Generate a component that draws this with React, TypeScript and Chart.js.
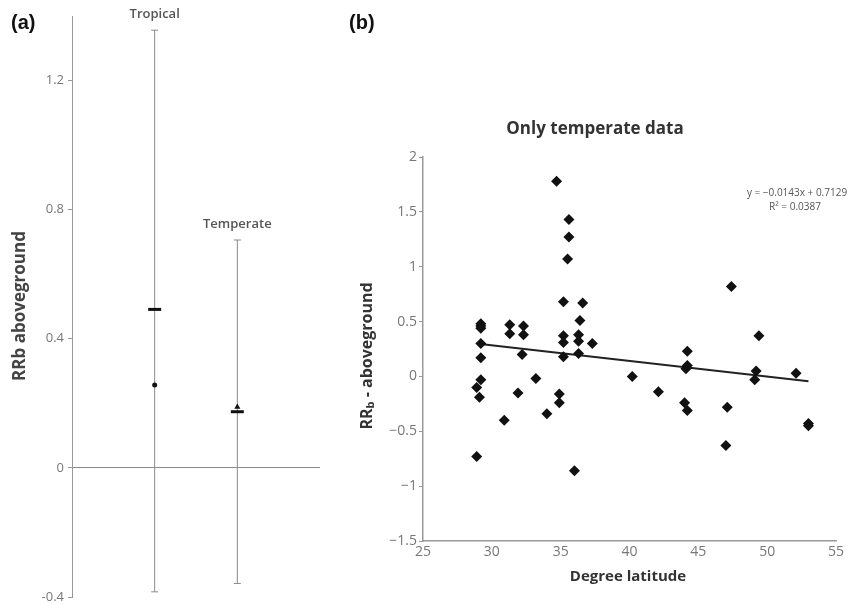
import React, { useEffect, useRef } from 'react';
import { Chart, registerables } from 'chart.js';
Chart.register(...registerables);

// ---------- Panel (a) data ----------
const groups = ['Tropical', 'Temperate'];
const groupPos = [1, 2];
const upperCI = [1.356, 0.706];
const lowerCI = [-0.384, -0.358];
const meanBar = [0.491, 0.174];
const meanPoint = [0.257, 0.189];
const meanPointStyle = ['circle', 'triangle'];
const panelATicks = [-0.4, 0, 0.4, 0.8, 1.2];

// ---------- Panel (b) data ----------
const latitude = [
  28.9, 29.2, 29.2, 29.2, 29.2, 29.2, 29.2, 28.9, 29.1,
  31.3, 31.3, 32.3, 32.3, 32.2, 30.9, 31.9, 33.2, 34.0, 34.9, 34.9,
  34.7, 35.6, 35.6, 35.5, 35.2, 35.2, 35.2, 35.2,
  36.6, 36.4, 36.3, 36.3, 36.3, 37.3, 36.0,
  40.2, 42.1, 44.2, 44.2, 44.1, 44.0, 44.2,
  47.1, 47.0, 47.4, 49.4, 49.2, 49.1, 52.1, 53.0, 53.0,
];
const rrAboveground = [
  -0.73, 0.48, 0.46, 0.44, 0.30, 0.17, -0.03, -0.10, -0.19,
  0.47, 0.39, 0.46, 0.38, 0.20, -0.40, -0.15, -0.02, -0.34, -0.16, -0.24,
  1.78, 1.43, 1.27, 1.07, 0.68, 0.37, 0.31, 0.18,
  0.67, 0.51, 0.38, 0.32, 0.21, 0.30, -0.86,
  0.00, -0.14, 0.23, 0.10, 0.07, -0.24, -0.31,
  -0.28, -0.63, 0.82, 0.37, 0.05, -0.03, 0.03, -0.43, -0.45,
];
const trendSlope = -0.0143;
const trendIntercept = 0.7129;
const trendRange = [29, 53];
const xTicksB = [25, 30, 35, 40, 45, 50, 55];
const yTicksB = [-1.5, -1, -0.5, 0, 0.5, 1, 1.5, 2];

const FONT = '"Open Sans", "DejaVu Sans", sans-serif';
const B_LEFT = 340;

const panelAText = {
  id: 'panelAText',
  afterDatasetsDraw(chart: any) {
    const { ctx, scales } = chart;
    const x = scales.x;
    const y = scales.y;
    ctx.save();
    ctx.fillStyle = '#555';
    ctx.font = `600 13px ${FONT}`;
    ctx.textAlign = 'center';
    ctx.textBaseline = 'middle';
    groups.forEach((g, i) => {
      ctx.fillText(g, x.getPixelForValue(groupPos[i]), y.getPixelForValue(upperCI[i]) - 15.5);
    });
    ctx.translate(20, 306);
    ctx.rotate(-Math.PI / 2);
    ctx.font = `bold 17px ${FONT}`;
    ctx.fillStyle = '#444';
    ctx.fillText('RRb aboveground', 0, 0);
    ctx.restore();
  },
};

const panelBText = {
  id: 'panelBText',
  afterDatasetsDraw(chart: any) {
    const { ctx } = chart;
    ctx.save();
    ctx.textAlign = 'center';
    ctx.textBaseline = 'middle';
    ctx.fillStyle = '#333';
    ctx.font = `bold 17px ${FONT}`;
    ctx.fillText('Only temperate data', 595 - B_LEFT, 129);
    ctx.font = `bold 15px ${FONT}`;
    ctx.fillText('Degree latitude', 628 - B_LEFT, 577);

    // equation
    ctx.fillStyle = '#555';
    ctx.font = `10px ${FONT}`;
    ctx.fillText('y = −0.0143x + 0.7129', 797 - B_LEFT, 193);
    ctx.fillText('R² = 0.0387', 795 - B_LEFT, 207);

    // y title with subscript
    ctx.fillStyle = '#333';
    const big = `bold 16px ${FONT}`;
    const small = `bold 11px ${FONT}`;
    ctx.font = big;
    const w1 = ctx.measureText('RR').width;
    const w3 = ctx.measureText(' - aboveground').width;
    ctx.font = small;
    const w2 = ctx.measureText('b').width;
    const total = w1 + w2 + w3;
    ctx.translate(367 - B_LEFT, 356);
    ctx.rotate(-Math.PI / 2);
    ctx.textAlign = 'left';
    let pos = -total / 2;
    ctx.font = big;
    ctx.fillText('RR', pos, 0);
    pos += w1;
    ctx.font = small;
    ctx.fillText('b', pos, 4);
    pos += w2;
    ctx.font = big;
    ctx.fillText(' - aboveground', pos, 0);
    ctx.restore();
  },
};

export default function App() {
  const refA = useRef<HTMLCanvasElement>(null);
  const refB = useRef<HTMLCanvasElement>(null);

  useEffect(() => {
    const whiskerSets = groups.map((g, i) => ({
      type: 'line' as const,
      label: g + ' CI',
      data: [
        { x: groupPos[i], y: lowerCI[i] },
        { x: groupPos[i], y: upperCI[i] },
      ],
      borderColor: '#8a8a8a',
      borderWidth: 1,
      pointStyle: 'line',
      pointRadius: 3.5,
      pointBorderColor: '#8a8a8a',
      pointBorderWidth: 1,
      showLine: true,
      order: 3,
    }));

    const chartA = new Chart(refA.current!, {
      type: 'scatter',
      data: {
        datasets: [
          ...whiskerSets,
          {
            label: 'mean bar',
            data: groups.map((g, i) => ({ x: groupPos[i], y: meanBar[i] })),
            pointStyle: 'line',
            pointRadius: 6.5,
            pointBorderWidth: 3,
            pointBorderColor: '#111',
            borderColor: '#111',
            order: 2,
          } as any,
          {
            label: 'mean point',
            data: groups.map((g, i) => ({ x: groupPos[i], y: meanPoint[i] })),
            pointStyle: meanPointStyle as any,
            pointRadius: [2.5, 3.5],
            backgroundColor: '#111',
            borderColor: '#111',
            borderWidth: 0,
            order: 1,
          } as any,
        ],
      },
      options: {
        animation: false,
        responsive: false,
        layout: { padding: { top: 16, bottom: 33, right: 20, left: 0 } },
        plugins: { legend: { display: false }, tooltip: { enabled: false } },
        scales: {
          x: { type: 'linear', display: false, min: 0, max: 3 },
          y: {
            min: -0.4,
            max: 1.4,
            afterBuildTicks: (s: any) => {
              s.ticks = panelATicks.map((v) => ({ value: v }));
            },
            afterFit: (s: any) => {
              s.width = 72;
            },
            ticks: {
              color: '#777',
              font: { family: FONT, size: 13 },
              padding: 4,
              callback: (v: any) => String(Math.round(Number(v) * 10) / 10),
            },
            grid: {
              color: (c: any) => (c.tick && Math.abs(c.tick.value) < 1e-9 ? '#8a8a8a' : 'rgba(0,0,0,0)'),
              tickColor: '#999',
              tickLength: 4,
              lineWidth: 1,
            },
            border: { color: '#999', width: 1 },
          },
        },
      },
      plugins: [panelAText],
    });

    const minus = (v: any) => String(v).replace('-', '−');

    const chartB = new Chart(refB.current!, {
      type: 'scatter',
      data: {
        datasets: [
          {
            type: 'line' as const,
            label: 'trend',
            data: trendRange.map((xv) => ({ x: xv, y: trendSlope * xv + trendIntercept })),
            borderColor: '#222',
            borderWidth: 2,
            pointRadius: 0,
            order: 2,
          } as any,
          {
            label: 'RRb aboveground',
            data: latitude.map((xv, i) => ({ x: xv, y: rrAboveground[i] })),
            pointStyle: 'rectRot',
            pointRadius: 5.5,
            backgroundColor: '#111',
            borderColor: '#111',
            borderWidth: 0,
            order: 1,
          } as any,
        ],
      },
      options: {
        animation: false,
        responsive: false,
        layout: { padding: { top: 157, bottom: 0, right: 16, left: 0 } },
        plugins: { legend: { display: false }, tooltip: { enabled: false } },
        scales: {
          x: {
            type: 'linear',
            min: 25,
            max: 55,
            afterBuildTicks: (s: any) => {
              s.ticks = xTicksB.map((v) => ({ value: v }));
            },
            afterFit: (s: any) => {
              s.height = 63;
            },
            ticks: {
              color: '#777',
              font: { family: FONT, size: 14 },
              padding: 3,
              callback: (v: any) => minus(v),
            },
            grid: { display: false, drawTicks: false },
            border: { color: '#999', width: 1.5 },
          },
          y: {
            min: -1.5,
            max: 2,
            afterBuildTicks: (s: any) => {
              s.ticks = yTicksB.map((v) => ({ value: v }));
            },
            afterFit: (s: any) => {
              s.width = 83;
            },
            ticks: {
              color: '#777',
              font: { family: FONT, size: 14 },
              padding: 2,
              callback: (v: any) => minus(v),
            },
            grid: { drawOnChartArea: false, color: '#999', tickLength: 4 },
            border: { color: '#999', width: 1.5 },
          },
        },
      },
      plugins: [panelBText],
    });

    return () => {
      chartA.destroy();
      chartB.destroy();
    };
  }, []);

  const label: React.CSSProperties = {
    position: 'absolute',
    fontFamily: '"Liberation Sans", Arial, sans-serif',
    fontWeight: 'bold',
    fontSize: 20,
    lineHeight: '20px',
    color: '#111',
  };

  return (
    <div
      style={{
        position: 'absolute',
        left: 0,
        top: 0,
        width: 852,
        height: 604,
        overflow: 'hidden',
        background: '#fff',
      }}
    >
      <canvas
        ref={refA}
        width={340}
        height={630}
        style={{ position: 'absolute', left: 0, top: 0, width: 340, height: 630 }}
      />
      <canvas
        ref={refB}
        width={512}
        height={604}
        style={{ position: 'absolute', left: B_LEFT, top: 0, width: 512, height: 604 }}
      />
      <div style={{ ...label, left: 11, top: 12 }}>(a)</div>
      <div style={{ ...label, left: 349, top: 12 }}>(b)</div>
    </div>
  );
}
